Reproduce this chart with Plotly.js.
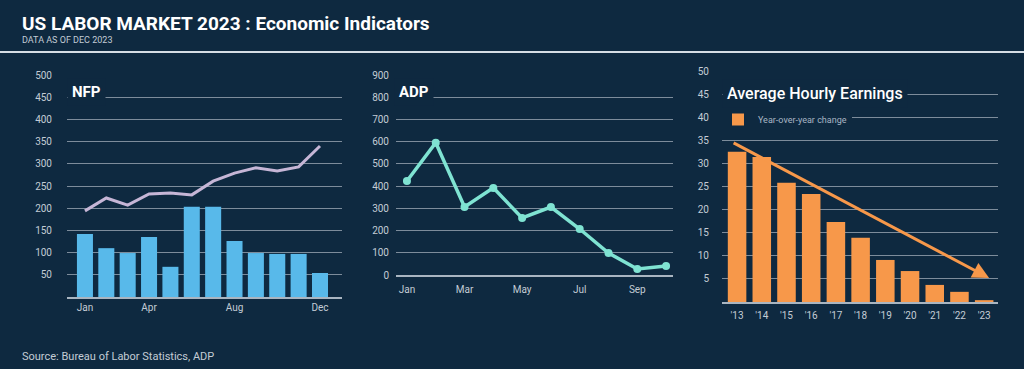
<!DOCTYPE html>
<html>
<head>
<meta charset="utf-8">
<script src="https://cdn.plot.ly/plotly-3.0.1.min.js"></script>
<style>
  html, body { margin: 0; padding: 0; background: #0e2940; }
  #chart { width: 1024px; height: 369px; }
</style>
</head>
<body>
<div id="chart"></div>
<script>
// ---------- data ----------
const nfpMonths = ["Jan","Feb","Mar","Apr","May","Jun","Jul","Aug","Sep","Oct","Nov","Dec"];
const nfpBars = [142, 110, 99, 135, 68, 203, 203, 126, 99, 97, 97, 54];
const nfpLine = [194, 223, 207, 232, 234, 230, 261, 279, 291, 284, 293, 340];
const nfpTickLabels = ["Jan","Apr","Aug","Dec"];

const adpMonths = ["Jan","Feb","Mar","Apr","May","Jun","Jul","Aug","Sep","Oct"];
const adpValues = [423, 595, 306, 392, 257, 306, 207, 99, 27, 41];
const adpTickLabels = ["Jan","Mar","May","Jul","Sep"];

const aheYears = ["'13","'14","'15","'16","'17","'18","'19","'20","'21","'22","'23"];
const aheValues = [32.5, 31.4, 25.8, 23.4, 17.3, 13.9, 9.1, 6.7, 3.7, 2.2, 0.4];
const aheTrendFrom = [-0.2, 34.6];
const aheTrendTo = [10.2, 5.2];

// ---------- style ----------
const BG = "#0e2940";
const GRID = "#7d8c9b";
const TICK = "#c3ccd5";
const W = 1024, H = 369;
const px = v => v / W;
const py = v => (H - v) / H;

const tickFont = {family: "Roboto, sans-serif", size: 10, color: TICK};

function yAxis(lo, hi, top, bottom, tickvals, standoff, anchor) {
  return {
    domain: [py(bottom), py(top)], range: [lo, hi], tickvals: tickvals,
    showgrid: true, gridcolor: GRID, gridwidth: 1, zeroline: false,
    showline: false, ticks: "", tickfont: tickFont, anchor: anchor,
    ticklabelstandoff: standoff, fixedrange: true
  };
}
function xAxis(left, right, rng, tickvals, anchor, standoff) {
  return {
    domain: [px(left), px(right)], range: rng, type: "category",
    tickvals: tickvals, showgrid: false, zeroline: false,
    showline: true, linecolor: "#a9b5c1", linewidth: 1.5,
    ticks: "", tickfont: tickFont, anchor: anchor, fixedrange: true,
    ticklabelstandoff: standoff
  };
}
function steps(a, b, s) { const r = []; for (let v = a; v <= b + 1e-9; v += s) r.push(+v.toFixed(4)); return r; }

const traces = [
  {type: "bar", x: nfpMonths, y: nfpBars, xaxis: "x", yaxis: "y",
   marker: {color: "#58b9ea"}, showlegend: false, name: "NFP"},
  {type: "scatter", mode: "lines", x: nfpMonths, y: nfpLine, xaxis: "x", yaxis: "y",
   line: {color: "#c6b6d6", width: 3}, showlegend: false, name: "NFP trend"},
  {type: "scatter", mode: "lines+markers", x: adpMonths, y: adpValues, xaxis: "x2", yaxis: "y2",
   line: {color: "#7fe3d2", width: 3.5}, marker: {color: "#7fe3d2", size: 8},
   showlegend: false, name: "ADP"},
  {type: "bar", x: aheYears, y: aheValues, xaxis: "x3", yaxis: "y3",
   marker: {color: "#f7984a"}, showlegend: true, name: "Year-over-year change"}
];

const layout = {
  width: W, height: H,
  margin: {l: 0, r: 0, t: 0, b: 0},
  paper_bgcolor: BG, plot_bgcolor: BG,
  font: {family: "Roboto, sans-serif", color: TICK},
  bargap: 0.25,
  xaxis: xAxis(67, 342, [-0.84, 12.03], nfpTickLabels, "y", 0),
  yaxis: yAxis(0, 500, 75, 297, steps(50, 500, 50), 14, "x"),
  xaxis2: xAxis(396, 673, [-0.38, 9.24], adpTickLabels, "y2", 4),
  yaxis2: yAxis(0, 900, 75, 275, steps(0, 900, 100), 6, "x2"),
  xaxis3: xAxis(722, 998, [-0.61, 10.56], aheYears, "y3", 3),
  yaxis3: yAxis(0, 50, 71, 302, steps(5, 50, 5), 12, "x3"),
  showlegend: true,
  legend: {
    x: px(718), y: py(105), xanchor: "left", yanchor: "top",
    bgcolor: BG, font: {family: "Roboto, sans-serif", size: 9, color: "#a8b6c4"},
    itemwidth: 30
  },
  shapes: [
    {type: "line", xref: "paper", yref: "paper", x0: 0, x1: 1, y0: py(52), y1: py(52),
     line: {color: "#d5dde5", width: 2}}
  ],
  annotations: [
    {xref: "paper", yref: "paper", x: px(20), y: py(23), xanchor: "left", yanchor: "middle",
     text: "<b>US LABOR MARKET 2023 : Economic Indicators</b>", showarrow: false,
     font: {family: "Roboto, sans-serif", size: 19, color: "#ffffff"}},
    {xref: "paper", yref: "paper", x: px(20), y: py(40), xanchor: "left", yanchor: "middle",
     text: "DATA AS OF DEC 2023", showarrow: false,
     font: {family: "Roboto, sans-serif", size: 9, color: "#c3ccd5"}},
    {xref: "paper", yref: "paper", x: px(67), y: py(92), xanchor: "left", yanchor: "middle",
     text: "<b>NFP</b>", showarrow: false, bgcolor: BG, borderpad: 4,
     font: {family: "Roboto, sans-serif", size: 15, color: "#ffffff"}},
    {xref: "paper", yref: "paper", x: px(394), y: py(92), xanchor: "left", yanchor: "middle",
     text: "<b>ADP</b>", showarrow: false, bgcolor: BG, borderpad: 4,
     font: {family: "Roboto, sans-serif", size: 15, color: "#ffffff"}},
    {xref: "paper", yref: "paper", x: px(722), y: py(93), xanchor: "left", yanchor: "middle",
     text: "Average Hourly Earnings", showarrow: false, bgcolor: BG, borderpad: 4,
     font: {family: "Roboto, sans-serif", size: 16, color: "#ffffff", weight: 500}},
    {xref: "x3", yref: "y3", axref: "x3", ayref: "y3",
     x: aheTrendTo[0], y: aheTrendTo[1], ax: aheTrendFrom[0], ay: aheTrendFrom[1],
     text: "", showarrow: true, arrowhead: 2, arrowsize: 1.1, arrowwidth: 3,
     arrowcolor: "#f7984a"},
    {xref: "paper", yref: "paper", x: px(20), y: py(356), xanchor: "left", yanchor: "middle",
     text: "Source: Bureau of Labor Statistics, ADP", showarrow: false,
     font: {family: "Roboto, sans-serif", size: 11, color: "#c3ccd5"}}
  ]
};

Plotly.newPlot("chart", traces, layout, {displayModeBar: false, staticPlot: true});
</script>
</body>
</html>
